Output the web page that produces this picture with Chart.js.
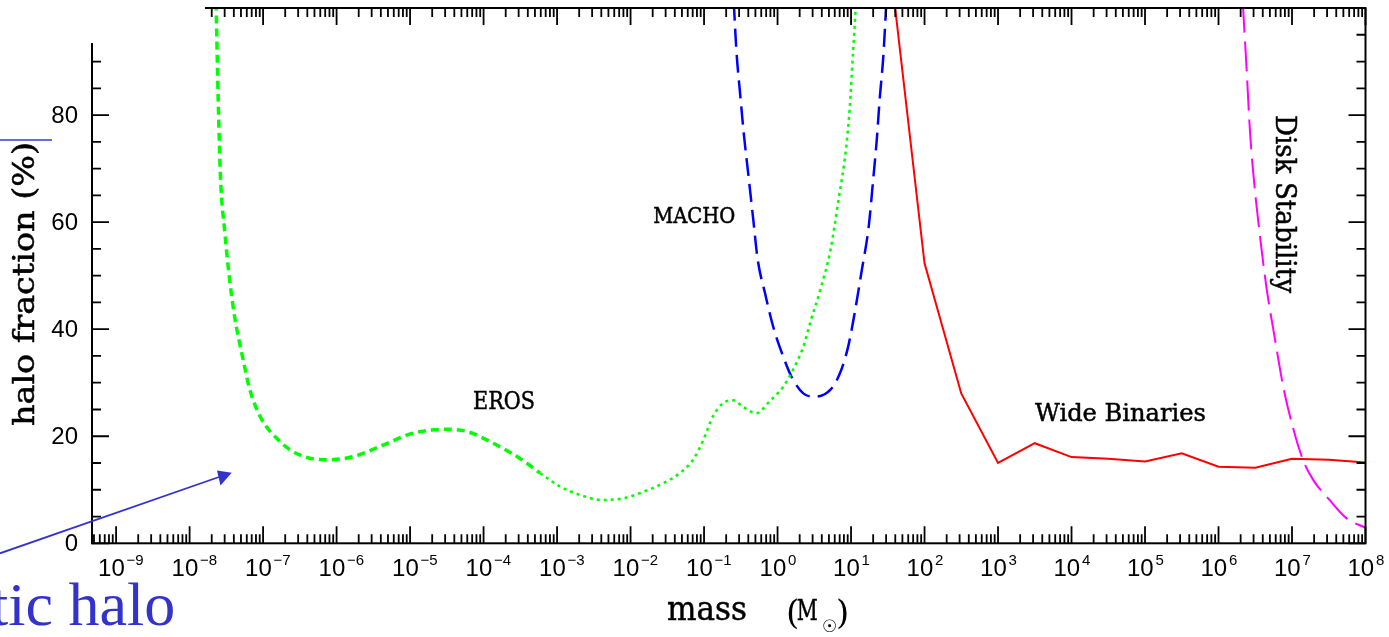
<!DOCTYPE html>
<html>
<head>
<meta charset="utf-8">
<script src="https://cdn.jsdelivr.net/npm/chart.js@4.4.1/dist/chart.umd.min.js"></script>
<style>
  html, body { margin: 0; padding: 0; background: #fff; }
  #wrap { width: 1389px; height: 637px; position: relative; }
</style>
</head>
<body>
<div id="wrap"><canvas id="grafico"></canvas></div>
<script>
// masses in solar masses, halo fraction in %
const erosMass = [2.29e-8, 2.45e-8, 2.63e-8, 3.02e-8, 3.55e-8, 4.17e-8, 5.13e-8, 6.61e-8, 9.12e-8, 1.70e-7,
  3.16e-7, 7.41e-7, 1.70e-6, 4.37e-6, 1.12e-5, 3.16e-5, 5.89e-5, 1.35e-4, 3.09e-4, 5.89e-4];
const erosFrac = [101, 82.9, 68.5, 58.0, 48.6, 41.7, 35.5, 28.7, 23.7, 19.0,
  16.5, 15.6, 16.2, 18.4, 20.6, 21.3, 20.9, 18.7, 15.9, 13.1];

const erosTailMass = [5.89e-4, 1.10e-3, 2.09e-3, 4.07e-3, 7.94e-3, 1.48e-2, 2.75e-2, 4.68e-2, 7.08e-2, 9.77e-2,
  0.132, 0.182, 0.251, 0.339, 0.513, 0.776, 1.20, 1.62, 2.24, 2.82, 3.80, 5.25, 6.76, 8.51, 9.55, 10.7, 11.7];
const erosTailFrac = [13.1, 10.6, 9.0, 8.1, 8.4, 9.6, 11.2, 13.1, 15.6, 19.3,
  23.7, 26.2, 26.7, 25.5, 24.3, 26.5, 29.3, 32.4, 36.7, 41.5, 47.3, 54.8, 64.2, 73.5, 81.0, 92.2, 101];

const machoMass = [0.254, 0.275, 0.309, 0.347, 0.398, 0.468, 0.537, 0.676, 0.871, 1.15, 1.55, 2.24,
  3.16, 5.25, 7.08, 9.12, 11.2, 13.8, 17.4, 20.0, 22.4, 24.5, 27.5, 30.2];
const machoFrac = [101, 92.2, 84.1, 76.6, 69.2, 60.4, 53.0, 46.7, 40.5, 35.5, 31.1, 28.0,
  27.4, 28.7, 31.8, 36.7, 43.0, 50.5, 59.2, 67.9, 75.4, 82.9, 91.0, 101];

const binMass = [31.6, 100, 316, 1e3, 3.16e3, 1e4, 3.16e4, 1e5, 3.16e5, 1e6, 3.16e6, 1e7, 3.16e7, 1e8];
const binFrac = [112, 52.3, 28.0, 15.0, 18.7, 16.1, 15.8, 15.3, 16.8, 14.3, 14.1, 15.8, 15.6, 15.1];

const diskMass = [2.14e6, 2.40e6, 2.69e6, 3.09e6, 3.63e6, 4.47e6, 5.89e6, 7.59e6, 1.05e7, 1.41e7,
  1.95e7, 3.24e7, 5.50e7, 1e8];
const diskFrac = [101, 89.1, 76.6, 66.7, 57.9, 48.0, 38.0, 29.3, 21.2, 15.6, 11.8, 8.1, 4.7, 2.9];

const decadeExps = [-9, -8, -7, -6, -5, -4, -3, -2, -1, 0, 1, 2, 3, 4, 5, 6, 7, 8];
const yTickLabels = [0, 20, 40, 60, 80];

const SERIF = '"DejaVu Serif"';
const SANS = '"Liberation Sans"';

function pts(xs, ys) {
  return xs.map((m, i) => ({ x: m, y: ys[i] }));
}

function fitText(ctx, text, x, y, width, size, family, angle) {
  ctx.save();
  ctx.translate(x, y);
  if (angle) ctx.rotate(angle);
  ctx.font = size + 'px ' + family;
  const w = ctx.measureText(text).width;
  ctx.scale(width / w, 1);
  ctx.textAlign = 'left';
  ctx.textBaseline = 'alphabetic';
  ctx.fillText(text, 0, 0);
  ctx.lineWidth = 0.5;
  ctx.strokeStyle = ctx.fillStyle;
  ctx.strokeText(text, 0, 0);
  ctx.restore();
}

// cadre, graduations et textes
const frame = {
  id: 'frame',
  afterDatasetsDraw(chart) {
    const { ctx, chartArea: a, scales: { x, y } } = chart;
    ctx.save();
    ctx.strokeStyle = '#000';
    ctx.lineWidth = 2;
    ctx.strokeRect(a.left, a.top, a.right - a.left, a.bottom - a.top);

    ctx.lineWidth = 1.8;
    ctx.beginPath();
    for (let k = -10; k <= 8; k++) {
      for (let m = 1; m <= 9; m++) {
        const v = m * Math.pow(10, k);
        if (v < x.min || v > x.max * 1.0001) continue;
        const px = x.getPixelForValue(v);
        const len = m === 1 ? 17 : 9;
        ctx.moveTo(px, a.bottom); ctx.lineTo(px, a.bottom - len);
        ctx.moveTo(px, a.top); ctx.lineTo(px, a.top + len);
      }
    }
    for (let v = 0; v <= 100; v += 5) {
      const py = y.getPixelForValue(v);
      const len = v % 20 === 0 ? 17 : 9;
      ctx.moveTo(a.left, py); ctx.lineTo(a.left + len, py);
      ctx.moveTo(a.right, py); ctx.lineTo(a.right - len, py);
    }
    ctx.stroke();

    ctx.fillStyle = '#000';
    // x tick labels 10^k
    decadeExps.forEach(k => {
      const px = x.getPixelForValue(Math.pow(10, k));
      ctx.font = '24px ' + SANS;
      ctx.textAlign = 'left';
      ctx.textBaseline = 'alphabetic';
      ctx.fillText('10', px - 18, 576);
      ctx.font = '15px ' + SANS;
      ctx.fillText(String(k).replace('-', '\u2212'), px + 10.5, 565);
    });
    // y tick labels
    ctx.font = '24px ' + SANS;
    ctx.textAlign = 'right';
    ctx.textBaseline = 'middle';
    yTickLabels.forEach(v => {
      ctx.fillText(String(v), 78, y.getPixelForValue(v) + 1);
    });

    // axis titles
    fitText(ctx, 'halo fraction (%)', 34, 426, 284, 29, SERIF, -Math.PI / 2);
    fitText(ctx, 'mass', 667, 619.5, 80, 34, SERIF);
    ctx.textAlign = 'left';
    ctx.textBaseline = 'alphabetic';
    ctx.font = '34px ' + SERIF;
    ctx.fillText('(', 786, 624);
    ctx.fillText(')', 836, 624);
    fitText(ctx, 'M', 796.7, 620, 21, 28, SERIF);
    ctx.font = '17px "DejaVu Sans"';
    ctx.fillText('\u2609', 822, 632);

    // curve labels
    fitText(ctx, 'EROS', 473, 409.3, 62, 24, SERIF);
    fitText(ctx, 'MACHO', 653.3, 222.7, 82, 22, SERIF);
    fitText(ctx, 'Wide Binaries', 1035, 420.7, 171, 25, SERIF);
    fitText(ctx, 'Disk Stability', 1276, 115, 178, 27, SERIF, Math.PI / 2);
    ctx.restore();
  },
  afterDraw(chart) {
    const { ctx } = chart;
    ctx.save();
    // coin masqué par la diapositive
    ctx.fillStyle = '#fff';
    ctx.fillRect(0, 0, 205, 43);

    // éléments de la diapositive
    ctx.strokeStyle = '#3a3ad6';
    ctx.lineWidth = 1.5;
    ctx.beginPath();
    ctx.moveTo(0, 140); ctx.lineTo(52, 140);
    ctx.stroke();

    ctx.strokeStyle = '#3333cc';
    ctx.fillStyle = '#3333cc';
    ctx.lineWidth = 1.8;
    ctx.beginPath();
    ctx.moveTo(0, 553.3); ctx.lineTo(219, 477);
    ctx.stroke();
    ctx.beginPath();
    ctx.moveTo(231.7, 472.7); ctx.lineTo(217, 470.5); ctx.lineTo(220.5, 485.5);
    ctx.closePath();
    ctx.fill();

    ctx.font = '62px "Liberation Serif"';
    ctx.textAlign = 'left';
    ctx.textBaseline = 'alphabetic';
    ctx.fillText('tic halo', -9, 625);
    ctx.restore();
  }
};

new Chart(document.getElementById('grafico'), {
  type: 'line',
  data: {
    datasets: [
      {
        label: 'EROS',
        data: pts(erosMass, erosFrac),
        borderColor: '#00ff00',
        borderWidth: 3.5,
        borderDash: [8, 5],
        cubicInterpolationMode: 'monotone'
      },
      {
        label: 'EROS (suite)',
        data: pts(erosTailMass, erosTailFrac),
        borderColor: '#00ff00',
        borderWidth: 2.5,
        borderDash: [3, 4],
        cubicInterpolationMode: 'monotone'
      },
      {
        label: 'MACHO',
        data: pts(machoMass, machoFrac),
        borderColor: '#0000ff',
        borderWidth: 2.5,
        borderDash: [18, 8],
        cubicInterpolationMode: 'monotone'
      },
      {
        label: 'Wide Binaries',
        data: pts(binMass, binFrac),
        borderColor: '#ff0000',
        borderWidth: 2,
        tension: 0
      },
      {
        label: 'Disk Stability',
        data: pts(diskMass, diskFrac),
        borderColor: '#ff00ff',
        borderWidth: 2,
        borderDash: [30, 9],
        cubicInterpolationMode: 'monotone'
      }
    ]
  },
  options: {
    responsive: true,
    maintainAspectRatio: false,
    animation: false,
    events: [],
    elements: { point: { radius: 0 } },
    layout: { padding: { left: 92, right: 23.5, top: 8, bottom: 93.7 } },
    plugins: { legend: { display: false }, tooltip: { enabled: false } },
    scales: {
      x: { type: 'logarithmic', min: 4.7e-10, max: 1e8, display: false },
      y: { type: 'linear', min: 0, max: 100, display: false }
    }
  },
  plugins: [frame]
});
</script>
</body>
</html>
